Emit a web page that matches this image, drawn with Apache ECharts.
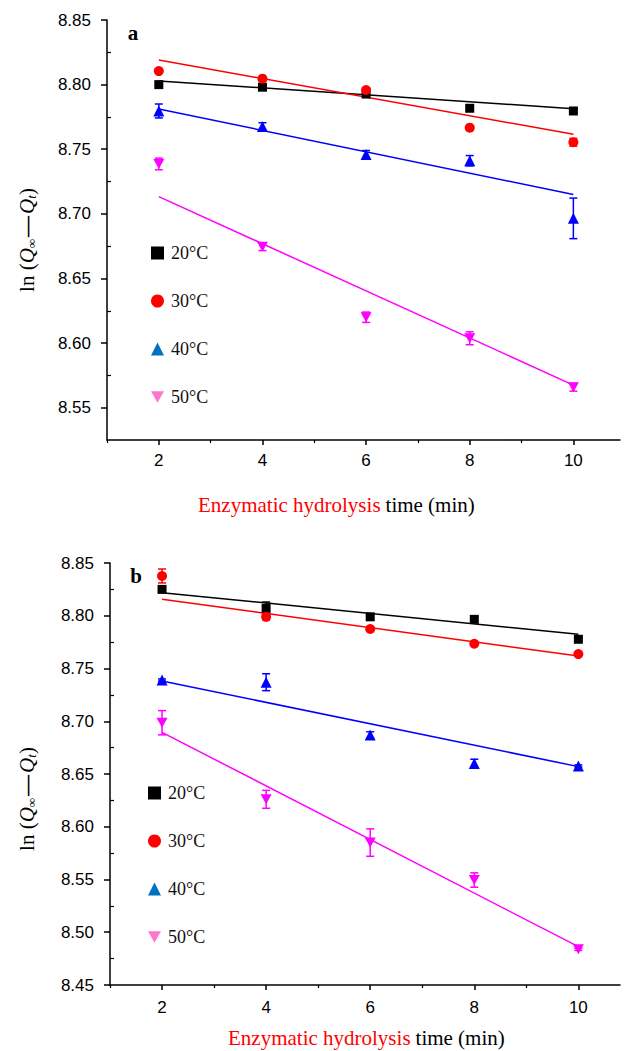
<!DOCTYPE html>
<html>
<head>
<meta charset="utf-8">
<script src="https://cdn.jsdelivr.net/npm/echarts@6/dist/echarts.min.js"></script>
<style>
html,body{margin:0;padding:0;background:#fff;}
#chart{width:634px;height:1051px;}
</style>
</head>
<body>
<div id="chart"></div>
<script>
// ---------- data ----------
const times = [2, 4, 6, 8, 10];
const seriesNames = ['20°C', '30°C', '40°C', '50°C'];

// panel a
const a20 = [8.800, 8.798, 8.7927, 8.7817, 8.7796];
const a30 = [8.8105, 8.8046, 8.7958, 8.7667, 8.7554];
const a40 = [8.7796, 8.7675, 8.746, 8.7411, 8.6965];
const a50 = [8.7386, 8.6746, 8.620, 8.6037, 8.5658];
const a20err = [0.001, 0.0015, 0.0015, 0.0015, 0.0012];
const a30err = [0.0015, 0.0015, 0.0015, 0.001, 0.003];
const a40err = [0.0054, 0.003, 0.003, 0.004, 0.0157];
const a50err = [0.0045, 0.003, 0.004, 0.005, 0.003];
const aFit20 = [8.8028, 8.7814];
const aFit30 = [8.819, 8.7616];
const aFit40 = [8.7811, 8.715];
const aFit50 = [8.7133, 8.5675];

// panel b
const b20 = [8.825, 8.807, 8.799, 8.7966, 8.7777];
const b30 = [8.8377, 8.799, 8.7874, 8.7735, 8.7637];
const b40 = [8.7391, 8.737, 8.687, 8.660, 8.6576];
const b50 = [8.6986, 8.626, 8.585, 8.5495, 8.4838];
const b20err = [0.002, 0.006, 0.002, 0.002, 0.002];
const b30err = [0.0066, 0.003, 0.001, 0.001, 0.001];
const b40err = [0.001, 0.008, 0.003, 0.004, 0.001];
const b50err = [0.0115, 0.0085, 0.013, 0.0068, 0.001];
const bFit20 = [8.8219, 8.7824];
const bFit30 = [8.8156, 8.7618];
const bFit40 = [8.7382, 8.657];
const bFit50 = [8.6895, 8.4863];

const fitX = [2, 10];

// tick labels
const xTickLabels = [2, 4, 6, 8, 10];
const xMinorTicks = [1, 3, 5, 7, 9];
const yTicksA = [8.55, 8.60, 8.65, 8.70, 8.75, 8.80, 8.85];
const yMinorA = [8.575, 8.625, 8.675, 8.725, 8.775, 8.825];
const yTicksB = [8.45, 8.50, 8.55, 8.60, 8.65, 8.70, 8.75, 8.80, 8.85];
const yMinorB = [8.475, 8.525, 8.575, 8.625, 8.675, 8.725, 8.775, 8.825];

// ---------- styles ----------
const colors = ['#000000', '#ff0000', '#0000ff', '#ff00ff'];
const legendColors = ['#000000', '#ff0000', '#0070c0', '#ff77cc'];
const downTri = 'path://M0,0L10,0L5,9Z';
const symbols = ['rect', 'circle', 'triangle', downTri];
const symbolSizes = [9, 10, 11, [11, 10]];
const sans = "'Liberation Sans', Arial, sans-serif";
const serif = "'Liberation Serif', 'Times New Roman', serif";

function mainX(grid, max) {
  return {
    type: 'value', gridIndex: grid, min: 1, max: max, position: 'bottom',
    axisLine: { show: true, onZero: false, lineStyle: { color: '#000', width: 1.5 } },
    axisTick: { show: true, length: 5, lineStyle: { color: '#000', width: 1.5 }, customValues: xTickLabels },
    axisLabel: { show: true, customValues: xTickLabels, fontFamily: sans, fontSize: 17, color: '#000', margin: grid === 0 ? 12 : 14 },
    splitLine: { show: false }
  };
}
function minorX(grid, max) {
  return {
    type: 'value', gridIndex: grid, min: 1, max: max, position: 'bottom', offset: 0,
    axisLine: { show: false, onZero: false },
    axisTick: { show: true, length: 3, lineStyle: { color: '#000', width: 1.2 }, customValues: xMinorTicks },
    axisLabel: { show: false },
    splitLine: { show: false }
  };
}
function mainY(grid, min, ticks) {
  return {
    type: 'value', gridIndex: grid, min: min, max: 8.85, position: 'left',
    axisLine: { show: true, onZero: false, lineStyle: { color: '#000', width: 1.5 } },
    axisTick: { show: true, length: 6, lineStyle: { color: '#000', width: 1.5 }, customValues: ticks },
    axisLabel: { show: true, customValues: ticks, fontFamily: sans, fontSize: 17, color: '#000', margin: 16,
      formatter: v => Number(v).toFixed(2) },
    splitLine: { show: false }
  };
}
function minorY(grid, min, ticks) {
  return {
    type: 'value', gridIndex: grid, min: min, max: 8.85, position: 'left', offset: 0,
    axisLine: { show: false, onZero: false },
    axisTick: { show: true, inside: true, length: 4, lineStyle: { color: '#000', width: 1.2 }, customValues: ticks },
    axisLabel: { show: false },
    splitLine: { show: false }
  };
}

function errRender(color) {
  return function (params, api) {
    const x = api.value(0), lo = api.value(1), hi = api.value(2);
    const p1 = api.coord([x, hi]);
    const p2 = api.coord([x, lo]);
    const w = 4;
    const st = { stroke: color, lineWidth: 1.5 };
    return {
      type: 'group',
      children: [
        { type: 'line', shape: { x1: p1[0], y1: p1[1], x2: p2[0], y2: p2[1] }, style: st },
        { type: 'line', shape: { x1: p1[0] - w, y1: p1[1], x2: p1[0] + w, y2: p1[1] }, style: st },
        { type: 'line', shape: { x1: p2[0] - w, y1: p2[1], x2: p2[0] + w, y2: p2[1] }, style: st }
      ]
    };
  };
}

function panelSeries(axisIdx, vals, errs, fits) {
  const out = [];
  vals.forEach((v, i) => {
    out.push({
      type: 'line', name: 'fit' + axisIdx + i, xAxisIndex: axisIdx, yAxisIndex: axisIdx,
      data: fitX.map((x, k) => [x, fits[i][k]]),
      symbol: 'none', lineStyle: { color: colors[i], width: 1.5 }, silent: true, z: 2
    });
    out.push({
      type: 'custom', name: 'err' + axisIdx + i, xAxisIndex: axisIdx, yAxisIndex: axisIdx,
      renderItem: errRender(colors[i]),
      encode: { x: 0, y: [1, 2] },
      data: times.map((t, k) => [t, v[k] - errs[i][k], v[k] + errs[i][k]]),
      silent: true, z: 3
    });
    out.push({
      type: 'scatter', name: seriesNames[i], xAxisIndex: axisIdx, yAxisIndex: axisIdx,
      data: times.map((t, k) => [t, v[k]]),
      symbol: symbols[i], symbolSize: symbolSizes[i],
      itemStyle: { color: colors[i], opacity: 1 }, z: 4
    });
  });
  return out;
}

function legendFor(left, top) {
  return {
    left: left, top: top, orient: 'vertical', itemGap: 30, itemWidth: 13, itemHeight: 13,
    selectedMode: false,
    textStyle: { fontFamily: serif, fontSize: 18, color: '#111', padding: [0, 0, 0, 2] },
    data: seriesNames.map((n, i) => ({
      name: n, icon: i === 3 ? downTri : symbols[i],
      itemStyle: { color: legendColors[i] }
    }))
  };
}

function yTitle(x, y) {
  return {
    type: 'text', x: x, y: y, rotation: Math.PI / 2,
    style: {
      text: '{n|ln (}{q|Q}{s|∞}{d|—}{q|Q}{s|t}{n|)}',
      align: 'center', verticalAlign: 'middle',
      rich: {
        n: { fontFamily: serif, fontSize: 21, fill: '#000' },
        d: { fontFamily: serif, fontSize: 21, fill: '#000', fontWeight: 'bold', padding: [0, 2, 0, 2] },
        q: { fontFamily: serif, fontSize: 21, fill: '#000', fontStyle: 'italic' },
        s: { fontFamily: serif, fontSize: 13, fill: '#000', fontStyle: 'italic', verticalAlign: 'bottom', padding: [7, 0, 0, 0] }
      }
    }
  };
}
function xTitle(x, y) {
  return {
    type: 'text', x: x, y: y,
    style: {
      text: '{r|Enzymatic hydrolysis}{k|time (min)}',
      align: 'left', verticalAlign: 'middle',
      rich: {
        r: { fontFamily: serif, fontSize: 21, fill: '#ff0000', padding: [0, 5, 0, 0] },
        k: { fontFamily: serif, fontSize: 21, fill: '#000' }
      }
    }
  };
}
function panelLabel(t, x, y) {
  return {
    type: 'text', x: x, y: y,
    style: { text: t, fontFamily: serif, fontSize: 21, fontWeight: 'bold', fill: '#000', align: 'center', verticalAlign: 'middle' }
  };
}

const chart = echarts.init(document.getElementById('chart'), null, { renderer: 'svg' });
chart.setOption({
  backgroundColor: '#fff',
  animation: false,
  grid: [
    { left: 107, top: 20, width: 513, height: 420 },
    { left: 110, top: 563, width: 510, height: 422 }
  ],
  xAxis: [mainX(0, 10.9), minorX(0, 10.9), mainX(1, 10.8), minorX(1, 10.8)],
  yAxis: [mainY(0, 8.525, yTicksA), minorY(0, 8.525, yMinorA), mainY(1, 8.45, yTicksB), minorY(1, 8.45, yMinorB)],
  legend: [legendFor(146, 239), legendFor(143, 779)],
  series: [].concat(
    panelSeries(0, [a20, a30, a40, a50], [a20err, a30err, a40err, a50err], [aFit20, aFit30, aFit40, aFit50]),
    panelSeries(2, [b20, b30, b40, b50], [b20err, b30err, b40err, b50err], [bFit20, bFit30, bFit40, bFit50])
  ),
  graphic: [
    panelLabel('a', 133, 33),
    panelLabel('b', 136, 576),
    xTitle(198, 505),
    xTitle(228, 1038),
    yTitle(27, 240),
    yTitle(27, 799)
  ]
});
</script>
</body>
</html>
